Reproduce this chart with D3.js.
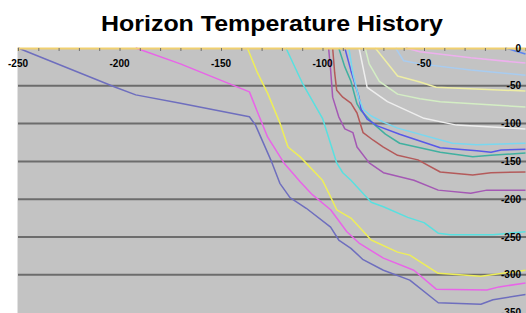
<!DOCTYPE html>
<html>
<head>
<meta charset="utf-8">
<script src="https://cdn.jsdelivr.net/npm/d3@7"></script>
<style>
  body { margin: 0; background: #fff; }
  svg { display: block; }
</style>
</head>
<body>
<div id="chart"></div>
<script>
// horizon burial curves: [age (Ma), depth] pairs, oldest horizon first
const xTicks = [-250, -200, -150, -100, -50];
const yTicks = [0, -50, -100, -150, -200, -250, -300, -350];
const gridDepths = [-50, -100, -150, -200, -250, -300];

const seriesColors = ['#6e6ebe', '#e864e8', '#eeee58', '#58e0e0', '#a458b4', '#b45a5a',
  '#40b0a0', '#5858e8', '#78d8f0', '#eeeeee', '#d4eec4', '#eeeea4', '#a8ccf0', '#eeb0ee', '#5c84f0'];

const horizon1 = [[-250, 0], [-202, -52], [-192, -62], [-170, -73], [-136, -91], [-133, -102], [-125, -151],
  [-121, -179], [-116, -198], [-108, -212], [-96, -237], [-92, -254], [-86, -265], [-80, -280], [-70, -294],
  [-57, -307], [-43, -337], [-22, -339], [-16, -333], [0, -326]];
const horizon2 = [[-192, 0], [-170, -21], [-136, -58], [-132, -85], [-127, -118], [-119, -152], [-111, -177],
  [-105, -194], [-96, -214], [-88, -243], [-82, -258], [-70, -278], [-55, -294], [-44, -319], [-19, -320],
  [-13, -316], [0, -311]];
const horizon3 = [[-137, 0], [-132, -33], [-127, -60], [-121, -99], [-117, -131], [-111, -144], [-100, -175],
  [-96, -197], [-93, -214], [-86, -225], [-76, -254], [-63, -270], [-57, -274], [-43, -298], [-22, -302], [0, -294]];
const horizon4 = [[-118, 0], [-110, -46], [-100, -93], [-93, -152], [-90, -165], [-86, -175], [-76, -204],
  [-70, -210], [-58, -224], [-50, -231], [-43, -245], [-37, -247], [-16, -247], [0, -243]];
const horizon5 = [[-97, 0], [-96, -29], [-95, -65], [-92, -91], [-89, -107], [-85, -112], [-83, -131],
  [-77, -152], [-70, -165], [-55, -175], [-43, -188], [-27, -192], [-19, -188], [0, -188]];
const horizon6 = [[-95, 0], [-94, -33], [-93, -56], [-90, -65], [-86, -73], [-83, -86], [-80, -112],
  [-75, -122], [-70, -131], [-63, -142], [-53, -148], [-42, -164], [-26, -168], [-17, -165], [0, -164]];
const horizon7 = [[-92, 0], [-89, -25], [-86, -44], [-83, -74], [-81, -83], [-75, -100], [-69, -114],
  [-62, -126], [-42, -138], [-26, -144], [-17, -142], [0, -139]];
const horizon8 = [[-89, 0], [-86, -30], [-82, -65], [-81, -81], [-78, -94], [-73, -103], [-62, -114],
  [-42, -132], [-24, -136], [-17, -138], [-12, -135], [0, -134]];
const horizon9 = [[-87, 0], [-85, -34], [-82, -67], [-80, -81], [-76, -90], [-70, -98], [-63, -106],
  [-36, -126], [-24, -128], [0, -126]];
const horizon10 = [[-82, 0], [-78, -52], [-68, -71], [-50, -93], [-34, -102], [0, -107]];
const horizon11 = [[-79, 0], [-77, -21], [-72, -44], [-63, -61], [-52, -67], [-42, -71], [0, -78]];
const horizon12 = [[-74, 0], [-63, -37], [-52, -45], [-44, -52], [0, -57]];
const horizon13 = [[-64, 0], [-60, -17], [-52, -21], [-27, -29], [0, -36]];
const horizon14 = [[-59, 0], [-52, -5], [-27, -13], [0, -20]];
const horizon15 = [[-10, 0], [-5, -4], [0, -8]];

const horizons = [horizon1, horizon2, horizon3, horizon4, horizon5, horizon6, horizon7, horizon8,
  horizon9, horizon10, horizon11, horizon12, horizon13, horizon14, horizon15];

const width = 526, height = 313;
const plot = { left: 18, right: 525.5, top: 48, bottom: 312.6 };

const svg = d3.select('#chart').append('svg')
  .attr('width', width)
  .attr('height', height);

const x = d3.scaleLinear().domain([-250, 0]).range([plot.left, plot.right]);
const y = d3.scaleLinear().domain([0, -350]).range([plot.top, plot.bottom]);

svg.append('text')
  .attr('x', 272)
  .attr('y', 31)
  .attr('text-anchor', 'middle')
  .attr('font-family', 'Liberation Sans, Arial, sans-serif')
  .attr('font-weight', 'bold')
  .attr('font-size', '22px')
  .attr('textLength', 342)
  .attr('lengthAdjust', 'spacingAndGlyphs')
  .attr('fill', '#000')
  .text('Horizon Temperature History');

// plot background
svg.append('rect')
  .attr('x', plot.left - 1)
  .attr('y', plot.top)
  .attr('width', width - plot.left + 1)
  .attr('height', height - plot.top)
  .attr('fill', '#c3c3c3');

svg.append('line')
  .attr('x1', plot.left - 0.5).attr('x2', plot.left - 0.5)
  .attr('y1', plot.top).attr('y2', height)
  .attr('stroke', '#e2e2e2')
  .attr('stroke-width', 1);

// grid lines
svg.selectAll('.grid')
  .data(gridDepths)
  .enter().append('line')
  .attr('class', 'grid')
  .attr('x1', plot.left)
  .attr('x2', width)
  .attr('y1', d => y(d))
  .attr('y2', d => y(d))
  .attr('stroke', '#6c6c6c')
  .attr('stroke-width', 2);

// horizon curves
const line = d3.line()
  .x(d => x(d[0]))
  .y(d => y(d[1]));

svg.selectAll('.horizon')
  .data(horizons)
  .enter().append('path')
  .attr('class', 'horizon')
  .attr('d', line)
  .attr('fill', 'none')
  .attr('stroke', (d, i) => seriesColors[i])
  .attr('stroke-width', 1.5)
  .attr('stroke-linejoin', 'round');

// top axis (surface)
const topAxis = svg.append('g')
  .attr('transform', `translate(0,${plot.top})`)
  .call(d3.axisBottom(x).ticks(25).tickSize(3).tickFormat(''));
topAxis.select('.domain').attr('stroke', '#f0d070').attr('stroke-width', 2);
topAxis.selectAll('.tick line').attr('stroke', '#707070');

// x labels
svg.selectAll('.xlabel')
  .data(xTicks)
  .enter().append('text')
  .attr('class', 'xlabel')
  .attr('x', d => x(d))
  .attr('y', 67)
  .attr('text-anchor', 'middle')
  .attr('font-family', 'Liberation Sans, Arial, sans-serif')
  .attr('font-weight', 'bold')
  .attr('font-size', '10px')
  .attr('fill', '#000')
  .text(d => d);

// depth labels on the right
svg.selectAll('.ylabel')
  .data(yTicks)
  .enter().append('text')
  .attr('class', 'ylabel')
  .attr('x', 521)
  .attr('y', d => y(d) + 3.5)
  .attr('text-anchor', 'end')
  .attr('font-family', 'Liberation Sans, Arial, sans-serif')
  .attr('font-weight', 'bold')
  .attr('font-size', '10px')
  .attr('fill', '#000')
  .text(d => d);
</script>
</body>
</html>
